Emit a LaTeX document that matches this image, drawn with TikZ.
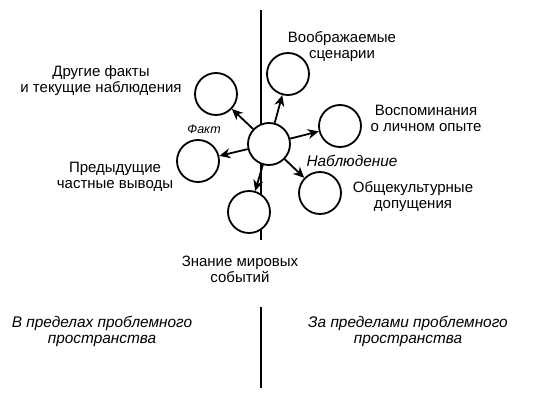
\documentclass[tikz,border=0pt]{standalone}
\usepackage{fontspec}
\setmainfont{Liberation Sans}
\usetikzlibrary{arrows.meta}
\begin{document}
\begin{tikzpicture}[x=1pt,y=-1pt,
  bubble/.style={circle,draw,line width=1.8pt,fill=white,minimum size=42pt,inner sep=0pt},
  lbl/.style={align=center,font=\fontsize{15}{16}\selectfont,inner sep=0pt},
  ilbl/.style={align=center,font=\fontsize{15.4}{16}\selectfont\itshape,inner sep=0pt},
  arr/.style={line width=1.8pt,-{Stealth[length=11pt,width=10pt]}},
  divider/.style={line width=2.6pt}]
\useasboundingbox (0,0) rectangle (539,404);
\coordinate (dtop) at (261,10);
\coordinate (dbot) at (261,240);
\coordinate (d2top) at (261,307);
\coordinate (d2bot) at (261,388);
\draw[divider] (dtop) -- (dbot);
\draw[divider] (d2top) -- (d2bot);
\node[bubble] (c) at (269,144) {};
\node[bubble] (t1) at (216,94) {};
\node[bubble] (t2) at (288,74) {};
\node[bubble] (t3) at (340,126) {};
\node[bubble] (t4) at (198,161) {};
\node[bubble] (t5) at (320,193) {};
\node[bubble] (t6) at (249,212) {};
\foreach \t in {t1,t2,t3,t4,t5,t6} \draw[arr] (c) -- (\t);
\node[lbl] (l1) at (101,81) {Другие факты\\и текущие наблюдения};
\node[lbl] (l2) at (342,47) {Воображаемые\\сценарии};
\node[lbl] (l3) at (426,118) {Воспоминания\\о личном опыте};
\node[lbl] (l4) at (115,177) {Предыдущие\\частные выводы};
\node[lbl] (l5) at (413,197) {Общекультурные\\допущения};
\node[lbl] (l6) at (240,269) {Знание мировых\\событий};
\node[ilbl,font=\fontsize{12.5}{14}\selectfont\itshape] (f) at (204,129) {Факт};
\node[ilbl] (n) at (352,161) {Наблюдение};
\node[ilbl] (b1) at (102,331) {В пределах проблемного\\пространства};
\node[ilbl] (b2) at (408,331) {За пределами проблемного\\пространства};
\end{tikzpicture}
\end{document}
